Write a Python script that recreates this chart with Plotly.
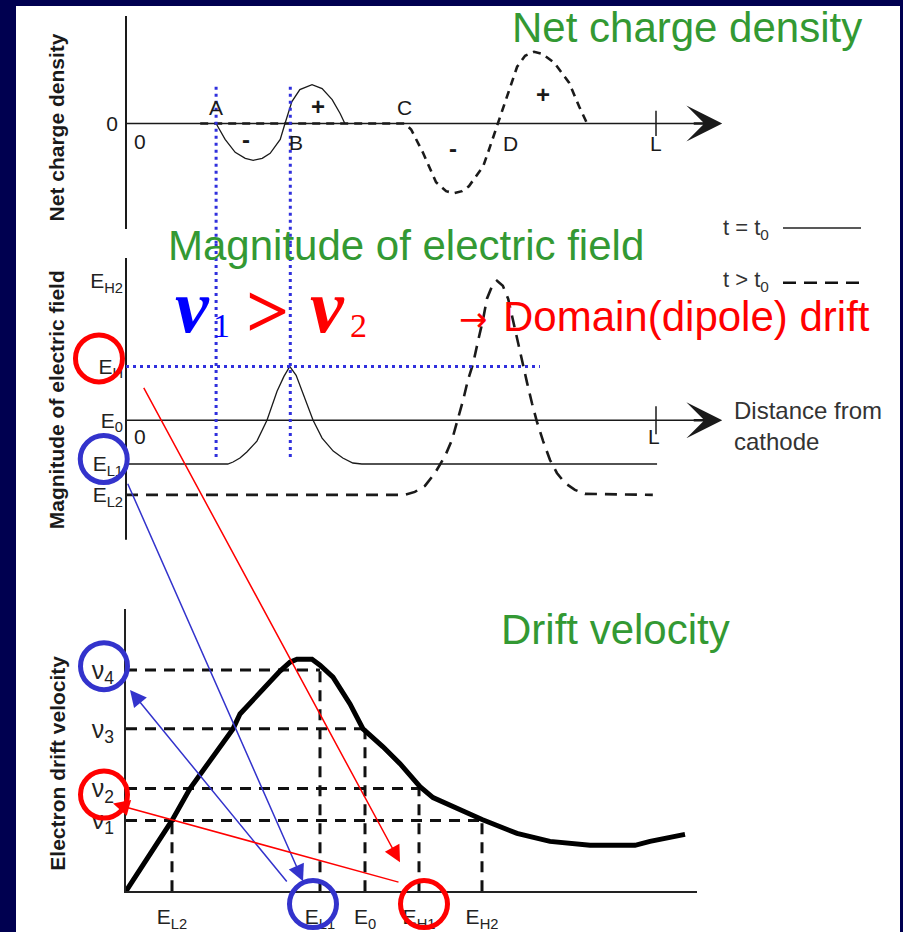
import plotly.graph_objects as go

W, H = 903, 932

# ---------------- data ----------------
# distance from cathode (cathode = 0, anode L = 100)
L_POS = 100.0
POS_A, POS_B, POS_C, POS_D = 17.0, 31.0, 52.6, 70.2
AXIS_END = 112.5

# net charge density, t = t0 (solid) and t > t0 (dashed), arbitrary units
rho_t0_x = [17.0, 18.7, 20.6, 22.5, 24.0, 25.7, 27.2, 29.1, 30.0, 31.3, 32.8, 35.1, 37.0, 38.9, 40.4, 41.3]
rho_t0_y = [0, -1.6, -2.9, -3.5, -3.7, -3.5, -3.0, -1.6, 0, 2.2, 3.4, 3.9, 3.5, 2.4, 1.0, 0]
rho_t1_x = [14.0, 52.6, 53.8, 56.0, 58.5, 60.4, 61.9, 63.4, 64.7, 67.4, 68.7, 70.2, 71.3,
            72.5, 73.8, 75.3, 77.0, 78.5, 80.8, 83.6, 85.5, 87.0]
rho_t1_y = [0, 0, -0.6, -2.9, -5.9, -6.8, -7.0, -6.8, -6.3, -4.3, -2.3, 0, 1.7,
            3.7, 5.7, 6.8, 7.2, 7.0, 6.1, 4.1, 1.7, 0]

# magnitude of electric field (arbitrary units)
E_L2, E_L1, E_0, E_H, E_H2 = 4.5, 7.6, 12.0, 17.4, 26.0
field_t0_x = [0, 19.2, 20.2, 21.5, 22.8, 24.7, 26.6, 28.5, 29.8, 30.9, 32.1, 32.8, 34.2,
              35.3, 37.0, 39.1, 40.9, 42.8, 44.5, 100.2]
field_t0_y = [7.6, 7.6, 7.8, 8.2, 8.8, 9.9, 12.0, 14.9, 16.4, 17.4, 16.5, 15.5, 13.7,
              12.0, 10.2, 8.9, 8.2, 7.7, 7.6, 7.6]
field_t1_x = [0, 52.6, 54.5, 56.4, 58.3, 60.2, 61.5, 62.5, 63.6, 64.5, 65.5, 66.4, 67.4,
              68.1, 69.1, 70.0, 71.1, 72.1, 72.8, 73.8, 74.7, 75.7, 76.6, 77.5, 78.7,
              80.0, 81.3, 82.8, 84.7, 86.6, 99.4]
field_t1_y = [4.5, 4.5, 4.8, 5.4, 6.7, 8.4, 10.0, 11.9, 14.0, 16.0, 17.7, 19.9, 22.2,
              24.2, 25.5, 26.0, 25.5, 24.2, 22.5, 20.2, 17.9, 15.7, 13.7, 11.9, 9.9,
              8.0, 6.7, 5.7, 5.0, 4.6, 4.5]
field_levels = [E_L2, E_L1, E_0, E_H, E_H2]
field_level_labels = ["E<sub>L2</sub>", "E<sub>L1</sub>", "E<sub>0</sub>", "E<sub>H</sub>", "E<sub>H2</sub>"]

# electron drift velocity vs field (arbitrary units)
vd_field = [0, 4.6, 6.4, 10.7, 11.4, 12.7, 14.1, 15.4, 16.4, 17.1, 18.6, 19.4, 20.7, 22.4,
            23.7, 25.7, 27.4, 29.4, 30.7, 32.4, 35.6, 39.1, 42.4, 46.4, 50.9, 52.4, 55.9]
vd_vel = [0, 7.1, 10.3, 16.3, 17.8, 19.2, 20.8, 22.1, 23.0, 23.3, 23.3, 22.7, 21.5, 18.8,
          16.3, 14.5, 12.8, 10.5, 9.4, 8.6, 7.2, 5.8, 5.0, 4.6, 4.6, 5.0, 5.7]
f3_ticks = [4.6, 19.4, 23.9, 29.3, 35.6]
f3_labels = ["E<sub>L2</sub>", "E<sub>L1</sub>", "E<sub>0</sub>", "E<sub>H1</sub>", "E<sub>H2</sub>"]
v_ticks = [7.1, 10.3, 16.3, 22.2]
v_labels = ["ν<sub>1</sub>", "ν<sub>2</sub>", "ν<sub>3</sub>", "ν<sub>4</sub>"]
# which velocity level belongs to each field level (index into v_ticks)
f3_to_v = [0, 3, 2, 1, 0]

# ---------------- geometry (pixels) ----------------
NAVY = "#000050"
GREEN = "#339933"
RED = "#ff0000"
BLUE = "#3333cc"
BLUE_DOT = "#3030dd"
INK = "#1a1a1a"
SANS = "Liberation Sans, Arial, sans-serif"
SERIF = "Liberation Serif, Times New Roman, serif"

X0_PX = 126                       # position of the vertical axes
GEOM = {
    # name: (pixel start, pixel end, value at start, value at end)
    "x":  (16, 903, (16 - X0_PX) / 5.3, (903 - X0_PX) / 5.3),
    "y":  (245, 16, (124 - 245) / 10.0, (124 - 16) / 10.0),
    "y2": (560, 245, (542 - 560) / 10.0, (542 - 245) / 10.0),
    "x3": (126, 697, 0.0, 57.1),
    "y3": (895, 612, 0.0, 28.3),
}


def to_px(axis, v):
    p0, p1, r0, r1 = GEOM[axis]
    return p0 + (v - r0) / (r1 - r0) * (p1 - p0)


def dom(axis, horizontal):
    p0, p1, _, _ = GEOM[axis]
    if horizontal:
        return [p0 / W, p1 / W]
    return [1 - p0 / H, 1 - p1 / H]


def rng(axis):
    return [GEOM[axis][2], GEOM[axis][3]]


def P(px, py):
    return px / W, 1 - py / H


fig = go.Figure()
shapes = []


def lines(x, y, xa, ya, color=INK, width=1.5, dash="solid"):
    fig.add_trace(go.Scatter(x=x, y=y, xaxis=xa, yaxis=ya, mode="lines",
                             line=dict(color=color, width=width, dash=dash),
                             hoverinfo="skip", showlegend=False))


def ring(x, y, xa, ya, color, r=23.5):
    cx, cy = P(to_px(xa, x), to_px(ya, y))
    shapes.append(dict(type="circle", xref="paper", yref="paper",
                       xsizemode="pixel", ysizemode="pixel", xanchor=cx, yanchor=cy,
                       x0=-r, x1=r, y0=-r, y1=r, line=dict(color=color, width=5),
                       fillcolor="rgba(0,0,0,0)", layer="above"))


# ---- panel 1 : net charge density ----
lines([0, 0], [-10.6, 10.8], "x", "y", width=2)
lines([0, AXIS_END - 3], [0, 0], "x", "y", width=1.5)
lines(rho_t1_x, rho_t1_y, "x", "y", width=2.6, dash="8px,6px")
lines(rho_t0_x, rho_t0_y, "x", "y", width=1.3)
for p in (POS_A, POS_B):
    lines([p, p], [3.7, GEOM["y"][2]], "x", "y", color=BLUE_DOT, width=3, dash="3px,4px")
fig.add_trace(go.Scatter(x=[L_POS], y=[0], xaxis="x", yaxis="y", mode="markers",
                         marker=dict(symbol="line-ns", size=18, line=dict(width=1.5, color=INK)),
                         hoverinfo="skip", showlegend=False))

# ---- panel 2 : magnitude of electric field ----
lines([0, 0], [0, 28.3], "x", "y2", width=2)
lines([0, AXIS_END - 3], [E_0, E_0], "x", "y2", width=1.5)
lines(field_t1_x, field_t1_y, "x", "y2", width=2.6, dash="12px,8px")
lines(field_t0_x, field_t0_y, "x", "y2", width=1.3)
lines([0, 78.1], [E_H, E_H], "x", "y2", color=BLUE_DOT, width=3, dash="3px,4px")
for p in (POS_A, POS_B):
    lines([p, p], [GEOM["y2"][3], 8.0], "x", "y2", color=BLUE_DOT, width=3, dash="3px,4px")
fig.add_trace(go.Scatter(x=[L_POS], y=[E_0], xaxis="x", yaxis="y2", mode="markers",
                         marker=dict(symbol="line-ns", size=20, line=dict(width=1.5, color=INK)),
                         hoverinfo="skip", showlegend=False))
ring(-5.1, E_H + 0.8, "x", "y2", RED)
ring(-4.2, E_L1 + 0.5, "x", "y2", BLUE)

# ---- panel 3 : drift velocity ----
gx, gy = [], []
for vi, v in enumerate(v_ticks):
    reach = max(f for f, k in zip(f3_ticks, f3_to_v) if k == vi)
    gx += [0, reach, None]
    gy += [v, v, None]
for f, k in zip(f3_ticks, f3_to_v):
    gx += [f, f, None]
    gy += [0, v_ticks[k], None]
lines(gx, gy, "x3", "y3", color="#111111", width=3, dash="11px,8px")
lines(vd_field, vd_vel, "x3", "y3", color="#000000", width=5)
ring(-2.2, v_ticks[3] + 0.4, "x3", "y3", BLUE)
ring(-2.2, v_ticks[1] - 0.6, "x3", "y3", RED)
ring(f3_ticks[1] - 0.7, -1.3, "x3", "y3", BLUE)
ring(f3_ticks[3] + 0.5, -1.3, "x3", "y3", RED)

# ---------------- annotations ----------------
ann = []


def txt(text, x, y, xref, yref, size, color=INK, family=SANS, xanchor="center",
        yanchor="middle", angle=0, align="center"):
    ann.append(dict(text=text, x=x, y=y, xref=xref, yref=yref, showarrow=False,
                    font=dict(size=size, color=color, family=family),
                    xanchor=xanchor, yanchor=yanchor, textangle=angle, align=align))


def ptxt(text, px, py, size, **kw):
    x, y = P(px, py)
    txt(text, x, y, "paper", "paper", size, **kw)


# green titles
ptxt("Net charge density", 687, 28, 42, color=GREEN)
ptxt("Magnitude of electric field", 406, 247, 42, color=GREEN)
ptxt("Drift velocity", 615, 632, 42, color=GREEN)
ptxt("Domain(dipole) drift", 686, 318, 42, color=RED)
ptxt("→", 473, 320, 34, color=RED, family="DejaVu Sans")

# v1 > v2
ptxt("<b><i>ν</i></b>", 192, 307, 76, color="#0000ff", family=SERIF)
ptxt("1", 221, 327, 34, color="#0000ff", family=SERIF)
ptxt("<b>&gt;</b>", 267, 312, 76, color=RED, family=SERIF)
ptxt("<b><i>ν</i></b>", 327, 307, 76, color=RED, family=SERIF)
ptxt("2", 358, 327, 34, color=RED, family=SERIF)

# rotated axis titles
ptxt("<b>Net charge density</b>", 56, 128, 21, angle=-90)
ptxt("<b>Magnitude of electric field</b>", 56, 402, 21, angle=-90)
ptxt("<b>Electron drift velocity</b>", 58, 766, 21, angle=-90)

# panel 1 labels
for t, x, y in [("A", POS_A, 1.6), ("B", POS_B + 1.1, -1.9), ("C", POS_C, 1.6),
                ("D", POS_D + 2.4, -2.0), ("L", L_POS, -2.0), ("0", 2.6, -1.8)]:
    txt(t, x, y, "x", "y", 21)
for t, x, y in [("<b>+</b>", 36.2, 1.7), ("<b>-</b>", 22.6, -1.6),
                ("<b>-</b>", 61.7, -2.5), ("<b>+</b>", 78.7, 2.9)]:
    txt(t, x, y, "x", "y", 24)

# panel 2 labels
txt("0", 2.6, E_0 - 1.6, "x", "y2", 21)
txt("L", L_POS - 0.4, E_0 - 1.6, "x", "y2", 21)
txt("Distance from<br>cathode", 114.3, E_0 - 0.6, "x", "y2", 24, color="#333333",
    xanchor="left", align="left")

# legend
ptxt("t = t<sub>0</sub>", 721, 230, 22, color="#333333", xanchor="left")
ptxt("t > t<sub>0</sub>", 721, 282, 22, color="#333333", xanchor="left")

# axis arrow heads
for ya, yv in (("y", 0), ("y2", E_0)):
    ann.append(dict(x=AXIS_END, y=yv, xref="x", yref=ya, ax=-30, ay=0,
                    axref="pixel", ayref="pixel", showarrow=True, text="",
                    arrowhead=3, arrowsize=2.3, arrowwidth=2.6, arrowcolor=INK))

# connecting arrows (tail -> head), each end given in its own panel's data
conn = [
    (("x", "y2", 3.2, 15.2), ("x3", "y3", 27.4, 2.9), RED),
    (("x", "y2", 0.2, 5.6), ("x3", "y3", 17.7, 1.0), BLUE),
    (("x3", "y3", 16.2, 0.9), ("x3", "y3", 0.4, 20.2), BLUE),
    (("x3", "y3", 27.4, 0.9), ("x3", "y3", -1.3, 8.8), RED),
]
for (txa, tya, tx, ty), (hxa, hya, hx, hy), col in conn:
    tpx, tpy = to_px(txa, tx), to_px(tya, ty)
    hpx, hpy = to_px(hxa, hx), to_px(hya, hy)
    x, y = P(hpx, hpy)
    ann.append(dict(x=x, y=y, xref="paper", yref="paper", ax=tpx - hpx, ay=tpy - hpy,
                    axref="pixel", ayref="pixel", showarrow=True, text="",
                    arrowhead=2, arrowsize=2.2, arrowwidth=1.5, arrowcolor=col))

# ---------------- shapes ----------------
shapes = [
    dict(type="rect", xref="paper", yref="paper", x0=16 / W, x1=900 / W, y0=-0.01,
         y1=1 - 6 / H, fillcolor="white", line=dict(width=0), layer="below"),
    dict(type="line", xref="paper", yref="paper", x0=783 / W, x1=861 / W,
         y0=1 - 229 / H, y1=1 - 229 / H, line=dict(color="#222222", width=1.5)),
    dict(type="line", xref="paper", yref="paper", x0=783 / W, x1=861 / W,
         y0=1 - 284 / H, y1=1 - 284 / H, line=dict(color="#111111", width=2.5, dash="13px,8px")),
] + shapes

hidden = dict(visible=False, showgrid=False, zeroline=False)
fig.update_layout(
    width=W, height=H, margin=dict(l=0, r=0, t=0, b=0),
    paper_bgcolor=NAVY, plot_bgcolor="rgba(0,0,0,0)",
    showlegend=False, font=dict(family=SANS, color=INK),
    xaxis=dict(domain=dom("x", True), range=rng("x"), anchor="y", **hidden),
    yaxis=dict(domain=dom("y", False), range=rng("y"), anchor="free", position=X0_PX / W,
               showgrid=False, zeroline=False, showline=False, ticks="",
               tickvals=[0], ticktext=["0"], tickfont=dict(size=21, color=INK),
               ticklabelstandoff=8),
    yaxis2=dict(domain=dom("y2", False), range=rng("y2"), anchor="free", position=X0_PX / W,
                showgrid=False, zeroline=False, showline=False, ticks="",
                tickvals=field_levels, ticktext=field_level_labels,
                tickfont=dict(size=21, color="#222222"), ticklabelstandoff=3),
    xaxis3=dict(domain=dom("x3", True), range=rng("x3"), anchor="y3",
                showgrid=False, zeroline=False, showline=True, linecolor="#222222",
                linewidth=2, ticks="", tickvals=f3_ticks, ticktext=f3_labels,
                tickfont=dict(size=21, color="#222222"), ticklabelstandoff=6),
    yaxis3=dict(domain=dom("y3", False), range=rng("y3"), anchor="x3",
                showgrid=False, zeroline=False, showline=True, linecolor="#222222",
                linewidth=2, ticks="", tickvals=v_ticks, ticktext=v_labels,
                tickfont=dict(size=25, color="#222222"), ticklabelstandoff=5),
    annotations=ann, shapes=shapes,
)

fig.write_html("out.html", config={"displayModeBar": False},
               post_script="document.body.style.margin='0px';"
                           "document.body.style.background='" + NAVY + "';")
